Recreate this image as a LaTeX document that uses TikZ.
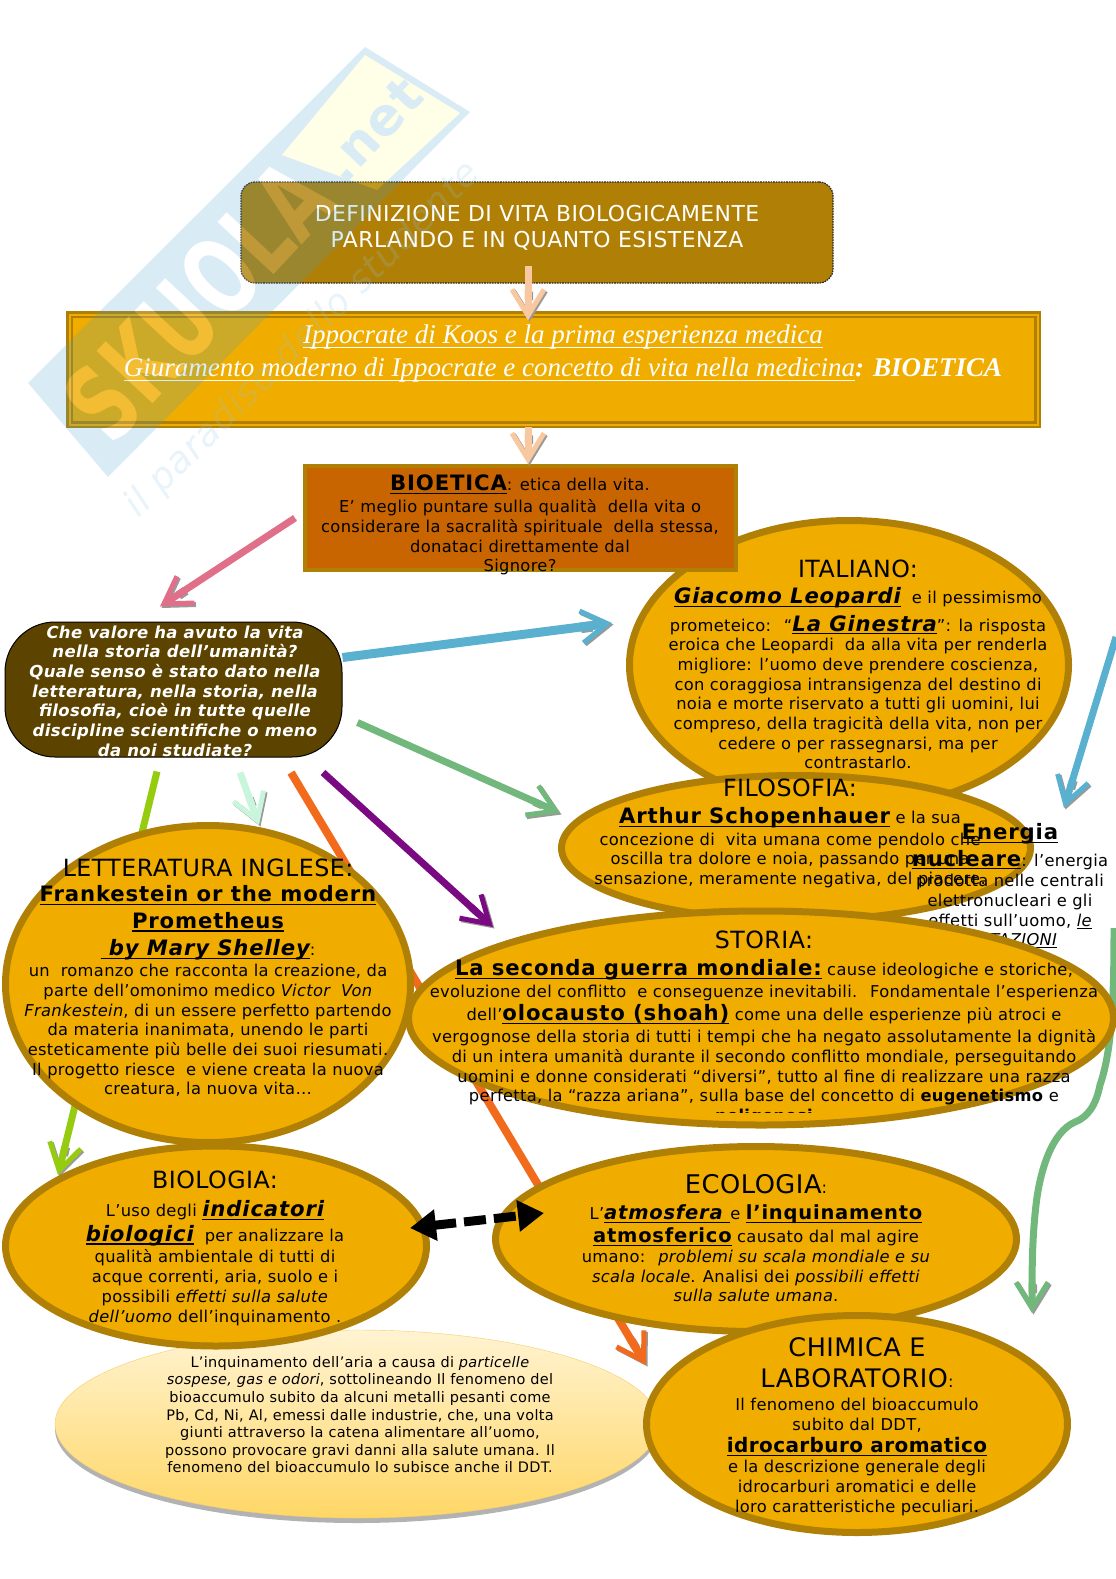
\documentclass[tikz,border=0pt]{standalone}
\usepackage{fontspec}
\usetikzlibrary{arrows.meta,shapes.geometric,shadows}
\setmainfont{DejaVu Sans}[LetterSpace=2]
\newfontfamily\seriffont{Liberation Serif}
\definecolor{ambra}{HTML}{F0AD00}
\definecolor{bordo}{HTML}{B08006}
\definecolor{bruno}{HTML}{5C4300}
\definecolor{ruggine}{HTML}{C96500}
\definecolor{rosa}{HTML}{E0708A}
\definecolor{cielo}{HTML}{5AB0CF}
\definecolor{salvia}{HTML}{72B87C}
\definecolor{lime}{HTML}{96CC10}
\definecolor{menta}{HTML}{C8F5DC}
\definecolor{arancio}{HTML}{F26A1B}
\definecolor{viola}{HTML}{7A0A82}
\definecolor{pesca}{HTML}{F8C8A0}
\definecolor{crema}{HTML}{FFF3D2}
\definecolor{miele}{HTML}{FFD766}
\definecolor{marchioblu}{HTML}{3FA0D0}
\newcommand{\sotto}[1]{\leavevmode\sbox0{#1}\rlap{\rule[-.16em]{\wd0}{1.1pt}}\usebox0}
\newcommand{\tit}[1]{{\fontsize{23.7}{26}\selectfont #1}}
\newcommand{\forte}[2][21.2]{{\fontsize{#1}{24}\selectfont\addfontfeature{LetterSpace=4}\bfseries\sotto{#2}}}
\newcommand{\fortei}[2][21.2]{{\fontsize{#1}{24}\selectfont\addfontfeature{LetterSpace=4}\bfseries\itshape\sotto{#2}}}

\begin{document}
\begin{tikzpicture}[x=1pt, y=-1pt,
  ovale/.style={ellipse, draw=bordo, line width=7pt, fill=ambra, inner sep=0pt},
  testo/.style={anchor=north, align=center, inner sep=0pt, font=\fontsize{16.3}{19.7}\selectfont},
  freccia/.style={line width=7pt, draw=#1, preaction={draw=black!40, transform canvas={shift={(1.5pt,-1.5pt)}}}, -{Butt Cap[sep=-12pt]Straight Barb[length=26pt,width=32pt,line width=5pt]}}]
\path[use as bounding box] (0,0) rectangle (1116,1579);

% sfondo e frecce sotto gli ovali
\node[ellipse, minimum width=604pt, minimum height=188pt, inner sep=0pt, draw=ambra!60, top color=crema, bottom color=miele,
  drop shadow={shadow xshift=0pt, shadow yshift=-5pt, fill=black!60, opacity=.5}] (aria) at (357,1424) {};
\node[testo, font=\fontsize{14.5}{17.6}\selectfont] (ariatxt) at (360,1356) {L'inquinamento dell'aria a causa di \textit{particelle}\\\textit{sospese, gas e odori}, sottolineando Il fenomeno del\\bioaccumulo subito da alcuni metalli pesanti come\\Pb, Cd, Ni, Al, emessi dalle industrie, che, una volta\\giunti attraverso la catena alimentare all'uomo,\\possono provocare gravi danni alla salute umana. Il\\fenomeno del bioaccumulo lo subisce anche il DDT.};

\node[draw=black, line width=1pt, fill=bruno, rounded corners=50pt, minimum width=337pt, minimum height=135pt] (domanda) at (173.5,689.5) {};
\node[draw=none, align=center, text=white, font=\fontsize{16.5}{19.7}\selectfont\bfseries\itshape] (domandatxt) at (175,691) {Che valore ha avuto la vita\\nella storia dell'umanità?\\Quale senso è stato dato nella\\letteratura, nella storia, nella\\filosofia, cioè in tutte quelle\\discipline scientifiche o meno\\da noi studiate?};

\node[ovale, minimum width=439pt, minimum height=289pt] (italiano) at (849,665) {};
\node[testo] (italianotxt) at (858,560) {\tit{ITALIANO:}\\[6pt]\fortei{Giacomo Leopardi} \ e il pessimismo\\[6pt]prometeico: \ ``\fortei{La Ginestra}'': la risposta\\eroica che Leopardi \ da alla vita per renderla\\migliore: l'uomo deve prendere coscienza,\\con coraggiosa intransigenza del destino di\\noia e morte riservato a tutti gli uomini, lui\\compreso, della tragicità della vita, non per\\cedere o per rassegnarsi, ma per\\contrastarlo.};

\node[rectangle, draw=bordo, line width=4pt, fill=ruggine, minimum width=431pt, minimum height=104pt] (bioetica) at (520.5,518) {};
\node[testo] (bioeticatxt) at (520,475) {\forte{BIOETICA}: etica della vita.\\[2pt]E' meglio puntare sulla qualità \ della vita o\\considerare la sacralità spirituale \ della stessa,\\donataci direttamente dal\\Signore?};

\node[ovale, minimum width=469pt, minimum height=145pt] (filosofia) at (796,848) {};
\node[testo] (filosofiatxt) at (790,779) {\tit{FILOSOFIA:}\\[7pt]\forte{Arthur Schopenhauer} e la sua\\[2pt]concezione di \ vita umana come pendolo che\\oscilla tra dolore e noia, passando per una\\sensazione, meramente negativa, del piacere.};

\node[testo] (energia) at (1010,823) {\forte{Energia}\\[5pt]\forte{nucleare}: l'energia\\[1pt]prodotta nelle centrali\\elettronucleari e gli\\effetti sull'uomo, \textit{\sotto{le}}\\\textit{\sotto{MUTAZIONI}}};

\coordinate (alto) at (1116,637);
\coordinate (prato) at (1114,928);
\draw[freccia=lime] ([xshift=-16.5pt,yshift=-14pt]domanda.south) -- (58,1175);
\draw[freccia=arancio, line width=8pt] ([xshift=117.5pt,yshift=-15pt]domanda.south) -- (646,1365);
\draw[freccia=menta] ([xshift=66.5pt,yshift=-15pt]domanda.south) -- (259,825);
\draw[freccia=viola] ([xshift=149.5pt,yshift=-15pt]domanda.south) -- (493,927);
\draw[freccia=cielo] (alto) -- (1064,808);
\draw[freccia=salvia] (prato) .. controls (1114,1000) and (1112,1050) .. (1100,1085) .. controls (1096,1105) and (1088,1117) .. (1075,1122) .. controls (1052,1132) and (1040,1170) .. (1036,1205) .. controls (1032,1240) and (1032,1270) .. (1032,1313);

\node[ovale, minimum width=405pt, minimum height=317pt] (letteratura) at (208,984) {};
\node[testo] (letteraturatxt) at (208,859) {\tit{LETTERATURA INGLESE:}\\[5pt]\forte{Frankestein or the modern}\\[7pt]\forte{Prometheus}\\[8pt]\fortei{\ by Mary Shelley}:\\[1pt]un \ romanzo che racconta la creazione, da\\parte dell'omonimo medico \textit{Victor \ Von}\\\textit{Frankestein}, di un essere perfetto partendo\\da materia inanimata, unendo le parti\\esteticamente più belle dei suoi riesumati.\\Il progetto riesce \ e viene creata la nuova\\creatura, la nuova vita…};

\node[ovale, minimum width=705pt, minimum height=214pt] (storia) at (761,1018) {};
\begin{scope}
\clip (380,900) rectangle (1116,1112);
\node[testo] (storiatxt) at (764,931) {\tit{STORIA:}\\[7pt]\forte{La seconda guerra mondiale:} cause ideologiche e storiche,\\[2pt]evoluzione del conflitto \ e conseguenze inevitabili. \ Fondamentale l'esperienza\\[4pt]dell'\forte{olocausto (shoah)} come una delle esperienze più atroci e\\[2pt]vergognose della storia di tutti i tempi che ha negato assolutamente la dignità\\di un intera umanità durante il secondo conflitto mondiale, perseguitando\\uomini e donne considerati ``diversi'', tutto al fine di realizzare una razza\\perfetta, la ``razza ariana'', sulla base del concetto di \textbf{eugenetismo} e\\\textbf{poligenesi}};
\end{scope}

\node[ovale, minimum width=421pt, minimum height=200pt] (biologia) at (216,1246) {};
\node[testo] (biologiatxt) at (215,1171) {\tit{BIOLOGIA:}\\[8pt]L'uso degli \fortei{indicatori}\\[5pt]\fortei{biologici} \ per analizzare la\\[2pt]qualità ambientale di tutti di\\acque correnti, aria, suolo e i\\possibili \textit{effetti sulla salute}\\\textit{dell'uomo} dell'inquinamento .};

\node[ovale, minimum width=521pt, minimum height=185pt] (ecologia) at (756,1239) {};
\node[testo] (ecologiatxt) at (756,1174) {{\fontsize{25.7}{28}\selectfont ECOLOGIA}:\\[7pt]L'\fortei[19.5]{atmosfera }e \forte[19.5]{l'inquinamento}\\[3pt]\forte[19.5]{atmosferico} causato dal mal agire\\umano: \ \textit{problemi su scala mondiale e su}\\\textit{scala locale}. Analisi dei \textit{possibili effetti}\\\textit{sulla salute umana}.};

\node[ovale, minimum width=421pt, minimum height=217pt] (chimica) at (857,1424) {};
\node[testo] (chimicatxt) at (857,1337) {{\fontsize{25.5}{30}\selectfont CHIMICA E}\\[12pt]{\fontsize{25.5}{30}\selectfont LABORATORIO}:\\[3pt]Il fenomeno del bioaccumulo\\subito dal DDT,\\[3pt]{\fontsize{20}{24}\selectfont\bfseries\sotto{idrocarburo aromatico}}\\e la descrizione generale degli\\idrocarburi aromatici e delle\\loro caratteristiche peculiari.};

\draw[{Triangle[length=26pt,width=30pt]}-{Triangle[length=26pt,width=30pt]}, line width=9pt, dash pattern=on 22pt off 8pt] ([xshift=-20pt,yshift=18pt]biologia.east) -- ([xshift=52pt,yshift=26pt]ecologia.west);
\draw[freccia=rosa] ([xshift=-8pt]bioetica.west) -- ([xshift=-13.5pt,yshift=15pt]domanda.north);
\draw[freccia=cielo, line width=9pt] ([yshift=32pt]domanda.east) -- ([xshift=-14pt,yshift=42pt]italiano.west);
\draw[freccia=salvia] ([xshift=15pt,yshift=-33pt]domanda.east) -- ([xshift=2pt,yshift=35pt]filosofia.west);

% riquadri in alto
\node[draw=black!85, dash pattern=on 1.6pt off 1pt, line width=1.2pt, fill=bordo, rounded corners=14pt, minimum width=592pt, minimum height=101pt] (titolo) at (537,232.5) {};
\node[align=center, text=white, font=\fontsize{21.9}{26}\selectfont] (titolotxt) at (537,228) {DEFINIZIONE DI VITA BIOLOGICAMENTE\\PARLANDO E IN QUANTO ESISTENZA};
\node[draw=bordo, double=ambra, double distance=2pt, line width=2.5pt, fill=ambra, minimum width=968pt, minimum height=110pt] (ippocrate) at (553.5,369.5) {};
\node[align=center, text=white, font=\fontsize{27}{33}\selectfont\seriffont] (ippocratetxt) at (563,354) {\textit{\sotto{Ippocrate di Koos e la prima esperienza medica}}\\\textit{\sotto{Giuramento moderno di Ippocrate e concetto di vita nella medicina}}\textbf{\textit{: BIOETICA}}};
\draw[freccia=pesca] ([xshift=-9pt,yshift=18pt]titolo.south) -- ([xshift=-25.5pt,yshift=-7pt]ippocrate.north);
\draw[freccia=pesca] ([xshift=-25.5pt,yshift=-1pt]ippocrate.south) -- ([xshift=7.5pt]bioetica.north);

% marchio in trasparenza
\begin{scope}[transparency group, opacity=.2]
\fill[marchioblu] (28,383) -- (365,47) -- (470,112) -- (108,477) -- cycle;
\fill[yellow!50] (282,155) -- (365,55) -- (460,113) -- (377,190) -- cycle;
\node[rotate=47, xscale=.68, text=white, font=\fontsize{105}{105}\selectfont\bfseries] (marchio) at (198,300) {SKUOLA};
\node[rotate=47, text=marchioblu, font=\fontsize{52}{52}\selectfont\bfseries] (marchionet) at (372,130) {.net};
\node[rotate=45, text=marchioblu!60, font=\fontsize{37}{37}\selectfont\itshape] (motto) at (303,340) {il paradiso dello studente};
\end{scope}
\end{tikzpicture}
\end{document}
